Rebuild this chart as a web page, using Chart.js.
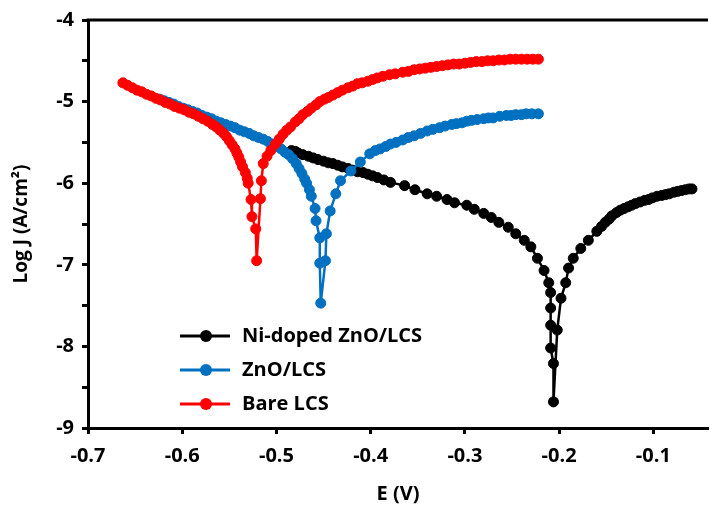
<!DOCTYPE html>
<html>
<head>
<meta charset="utf-8">
<script src="https://cdn.jsdelivr.net/npm/chart.js@4.4.1/dist/chart.umd.min.js"></script>
<style>
    body { margin: 0; background: #fff; }
    #wrap { width: 714px; height: 506px; position: relative; }
</style>
</head>
<body>
<div id="wrap"><canvas id="tafelChart"></canvas></div>
<script>
// Ni-doped ZnO/LCS
var niE = [-0.484, -0.480, -0.477, -0.472, -0.466, -0.461, -0.456, -0.450, -0.445, -0.440, -0.435, -0.430, -0.424, -0.419, -0.414, -0.408, -0.403, -0.398, -0.393, -0.386, -0.379,
    -0.364, -0.353, -0.340, -0.330, -0.319, -0.311, -0.298, -0.290, -0.280, -0.272, -0.264, -0.254, -0.246, -0.237, -0.230, -0.223, -0.216, -0.211, -0.209, -0.209, -0.209, -0.209, -0.206, -0.206,
    -0.202, -0.198, -0.193, -0.190, -0.185, -0.177, -0.169, -0.160, -0.155, -0.151, -0.147, -0.144, -0.139, -0.135, -0.131, -0.127, -0.123, -0.119, -0.114, -0.109, -0.105, -0.101,
    -0.096, -0.091, -0.087, -0.083, -0.078, -0.074, -0.070, -0.066, -0.062, -0.059];
var niLogJ = [-5.60, -5.61, -5.63, -5.65, -5.67, -5.69, -5.71, -5.73, -5.75, -5.76, -5.78, -5.80, -5.82, -5.84, -5.86, -5.87, -5.89, -5.91, -5.93, -5.96, -5.99,
    -6.03, -6.08, -6.13, -6.16, -6.20, -6.24, -6.27, -6.32, -6.37, -6.42, -6.48, -6.54, -6.62, -6.70, -6.78, -6.92, -7.07, -7.22, -7.34, -7.53, -7.74, -8.02, -8.21, -8.68,
    -7.80, -7.41, -7.22, -7.04, -6.92, -6.80, -6.70, -6.59, -6.53, -6.48, -6.44, -6.40, -6.36, -6.33, -6.31, -6.29, -6.27, -6.25, -6.23, -6.21, -6.20, -6.18,
    -6.16, -6.15, -6.14, -6.13, -6.11, -6.10, -6.09, -6.08, -6.07, -6.07];

// ZnO/LCS
var znoE = [-0.624, -0.619, -0.614, -0.609, -0.604, -0.599, -0.594, -0.589, -0.584, -0.579, -0.574, -0.569, -0.564, -0.559, -0.554, -0.549, -0.544, -0.539, -0.534, -0.529, -0.524,
    -0.519, -0.514, -0.509, -0.504, -0.499, -0.495, -0.491, -0.487, -0.483, -0.479, -0.476, -0.473, -0.470, -0.468, -0.465, -0.463, -0.459, -0.458, -0.454, -0.454, -0.453,
    -0.448, -0.447, -0.443, -0.437, -0.432, -0.421, -0.411, -0.401, -0.395, -0.390, -0.384, -0.379, -0.373, -0.366, -0.360, -0.354, -0.347, -0.340, -0.334, -0.327, -0.321,
    -0.314, -0.309, -0.303, -0.298, -0.293, -0.287, -0.280, -0.275, -0.270, -0.263, -0.256, -0.251, -0.246, -0.240, -0.235, -0.229, -0.222];
var znoLogJ = [-4.97, -4.99, -5.01, -5.03, -5.06, -5.08, -5.10, -5.12, -5.14, -5.17, -5.19, -5.21, -5.24, -5.26, -5.28, -5.30, -5.32, -5.35, -5.37, -5.39, -5.42,
    -5.44, -5.46, -5.49, -5.52, -5.55, -5.58, -5.62, -5.65, -5.70, -5.76, -5.82, -5.88, -5.95, -6.00, -6.08, -6.16, -6.31, -6.46, -6.67, -6.98, -7.47,
    -6.95, -6.62, -6.34, -6.13, -5.97, -5.85, -5.74, -5.64, -5.60, -5.58, -5.55, -5.52, -5.50, -5.47, -5.44, -5.42, -5.39, -5.36, -5.34, -5.32, -5.30,
    -5.28, -5.27, -5.26, -5.24, -5.23, -5.22, -5.21, -5.20, -5.20, -5.18, -5.17, -5.17, -5.16, -5.16, -5.15, -5.15, -5.15];

// Bare LCS
var bareE = [-0.663, -0.658, -0.653, -0.648, -0.643, -0.638, -0.633, -0.628, -0.623, -0.618, -0.613, -0.608, -0.603, -0.598, -0.593, -0.588, -0.583, -0.578, -0.573, -0.568,
    -0.564, -0.560, -0.556, -0.553, -0.550, -0.547, -0.544, -0.542, -0.540, -0.538, -0.536, -0.533, -0.531, -0.530, -0.527, -0.526, -0.522, -0.521,
    -0.517, -0.516, -0.514, -0.510, -0.506, -0.501, -0.497, -0.493, -0.489, -0.485, -0.480, -0.476, -0.472, -0.467, -0.463, -0.458, -0.454, -0.449, -0.445, -0.440,
    -0.435, -0.430, -0.424, -0.419, -0.414, -0.409, -0.403, -0.398, -0.393, -0.387, -0.380, -0.374, -0.366, -0.360, -0.354, -0.348, -0.342, -0.336, -0.330, -0.324,
    -0.318, -0.312, -0.306, -0.300, -0.294, -0.288, -0.282, -0.276, -0.270, -0.264, -0.258, -0.252, -0.246, -0.240, -0.234, -0.228, -0.222];
var bareLogJ = [-4.77, -4.80, -4.83, -4.86, -4.88, -4.91, -4.93, -4.96, -4.98, -5.01, -5.03, -5.06, -5.08, -5.10, -5.13, -5.15, -5.18, -5.21, -5.24, -5.28,
    -5.31, -5.35, -5.39, -5.43, -5.48, -5.53, -5.58, -5.63, -5.68, -5.74, -5.80, -5.87, -5.94, -6.00, -6.20, -6.41, -6.56, -6.95,
    -6.19, -5.97, -5.76, -5.67, -5.60, -5.52, -5.46, -5.40, -5.35, -5.31, -5.25, -5.21, -5.16, -5.12, -5.08, -5.04, -5.00, -4.97, -4.95, -4.92,
    -4.89, -4.86, -4.83, -4.81, -4.78, -4.77, -4.75, -4.73, -4.71, -4.69, -4.67, -4.66, -4.64, -4.63, -4.61, -4.60, -4.59, -4.58, -4.57, -4.56,
    -4.55, -4.54, -4.54, -4.53, -4.52, -4.51, -4.51, -4.50, -4.50, -4.49, -4.49, -4.48, -4.48, -4.48, -4.48, -4.48, -4.48];

var xTicks = [-0.7, -0.6, -0.5, -0.4, -0.3, -0.2, -0.1];

var seriesNames = ['Ni-doped ZnO/LCS', 'ZnO/LCS', 'Bare LCS'];
var seriesColors = ['#000000', '#0070C0', '#FF0000'];

var FONT = '"Open Sans", sans-serif';

function toPoints(xs, ys) {
    return xs.map(function(x, i) { return { x: x, y: ys[i] }; });
}

function makeSet(i, xs, ys) {
    return {
        label: seriesNames[i],
        data: toPoints(xs, ys),
        showLine: true,
        borderColor: seriesColors[i],
        backgroundColor: seriesColors[i],
        pointBackgroundColor: seriesColors[i],
        pointBorderColor: seriesColors[i],
        borderWidth: 2.5,
        pointRadius: 5,
        pointBorderWidth: 1,
        tension: 0,
        order: 3 - i // red on top, black underneath
    };
}

// top frame line + legend inside the plot
var framePlugin = {
    id: 'frameLegend',
    afterDraw: function(chart) {
        var ctx = chart.ctx;
        var area = chart.chartArea;
        ctx.save();
        ctx.strokeStyle = '#000';
        ctx.lineWidth = 3;
        ctx.beginPath();
        ctx.moveTo(area.left - 1.5, area.top);
        ctx.lineTo(area.right, area.top);
        ctx.stroke();

        var x0 = area.left + 92;
        var y0 = area.bottom - 92;
        chart.data.datasets.forEach(function(ds, i) {
            var y = y0 + i * 34;
            ctx.strokeStyle = ds.borderColor;
            ctx.lineWidth = 3;
            ctx.beginPath();
            ctx.moveTo(x0, y);
            ctx.lineTo(x0 + 50, y);
            ctx.stroke();
            ctx.fillStyle = ds.borderColor;
            ctx.beginPath();
            ctx.arc(x0 + 26, y, 6, 0, Math.PI * 2);
            ctx.fill();
            ctx.fillStyle = '#000';
            ctx.font = 'bold 20px ' + FONT;
            ctx.textBaseline = 'middle';
            ctx.fillText(ds.label, x0 + 62, y);
        });
        ctx.restore();
    }
};

document.addEventListener('DOMContentLoaded', function() {
    var ctx = document.getElementById('tafelChart').getContext('2d');

    var tafelChart = new Chart(ctx, {
        type: 'scatter',
        data: {
            datasets: [
                makeSet(0, niE, niLogJ),
                makeSet(1, znoE, znoLogJ),
                makeSet(2, bareE, bareLogJ)
            ]
        },
        options: {
            responsive: true,
            maintainAspectRatio: false,
            animation: false,
            layout: { padding: { top: 19, right: 0, left: 0, bottom: 0 } },
            plugins: {
                legend: { display: false },
                tooltip: { enabled: false }
            },
            scales: {
                x: {
                    type: 'linear',
                    min: -0.7,
                    max: -0.042,
                    afterFit: function(scale) { scale.height = 78; },
                    afterBuildTicks: function(scale) {
                        scale.ticks = xTicks.map(function(v) { return { value: v }; });
                    },
                    ticks: {
                        padding: 10,
                        color: '#000',
                        font: { family: FONT, size: 20, weight: 'bold' },
                        callback: function(v) { return v.toFixed(1); }
                    },
                    grid: { drawOnChartArea: false, tickLength: 6, tickWidth: 3, tickColor: '#000' },
                    border: { color: '#000', width: 3 },
                    title: {
                        display: true,
                        text: 'E (V)',
                        color: '#000',
                        font: { family: FONT, size: 20, weight: 'bold' },
                        padding: { top: 4, bottom: 0 }
                    }
                },
                y: {
                    min: -9,
                    max: -4,
                    afterFit: function(scale) { scale.width = 88; },
                    ticks: {
                        stepSize: 0.5,
                        padding: 8,
                        color: '#000',
                        font: { family: FONT, size: 20, weight: 'bold' },
                        callback: function(v) { return Number.isInteger(v) ? v : ''; }
                    },
                    grid: { drawOnChartArea: false, tickLength: 6, tickWidth: 3, tickColor: '#000' },
                    border: { color: '#000', width: 3 },
                    title: {
                        display: true,
                        text: 'Log J (A/cm²)',
                        color: '#000',
                        font: { family: FONT, size: 19, weight: 'bold' },
                        padding: { top: 10, bottom: 0 }
                    }
                }
            }
        },
        plugins: [framePlugin]
    });
});
</script>
</body>
</html>
